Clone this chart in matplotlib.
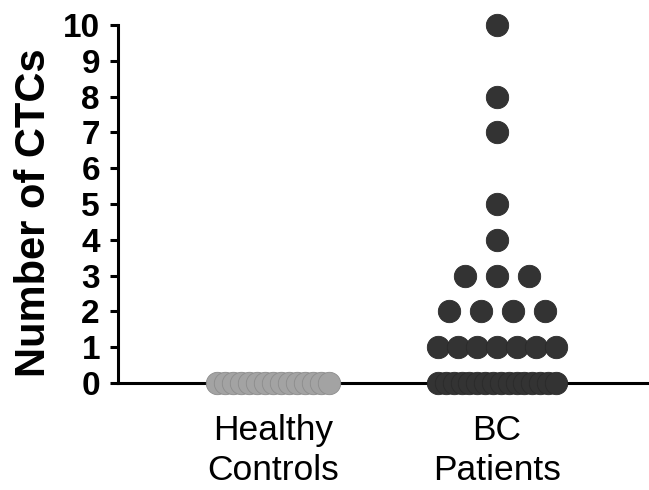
import numpy as np
import matplotlib
matplotlib.use("Agg")
import matplotlib.pyplot as plt

plt.rcParams['font.family'] = ['Liberation Sans', 'DejaVu Sans']

categories = ["Healthy\nControls", "BC\nPatients"]
healthy_values = [0] * 15
bc_values = [10, 8, 7, 5, 4, 3, 3, 3, 2, 2, 2, 2] + [1] * 7 + [0] * 16
colors = ["#A3A3A3", "#333333"]
edge_colors = ["#8C8C8C", "#2A2A2A"]
y_ticks = list(range(0, 11))

fig = plt.figure(figsize=(6.49, 4.90), dpi=100)
ax = fig.add_axes([118 / 649, 107 / 490, 531 / 649, (383 - 25) / 490])

def swarm_offsets(values, max_spacing=0.143, max_width=0.527):
    vals = np.asarray(values)
    offs = np.zeros(len(vals))
    for v in np.unique(vals):
        idx = np.where(vals == v)[0]
        n = len(idx)
        if n == 1:
            continue
        sp = min(max_spacing, max_width / (n - 1))
        offs[idx] = (np.arange(n) - (n - 1) / 2) * sp
    return offs

for i, vals in enumerate([healthy_values, bc_values]):
    x = i + swarm_offsets(vals, max_width=(0.527 if i == 1 else 0.50))
    ax.scatter(x, vals, s=260, color=colors[i], edgecolors=edge_colors[i],
               linewidths=0.6, clip_on=False, zorder=5)

ax.set_xlim(-0.692, 1.679)
ax.set_ylim(0, 10)
ax.set_yticks(y_ticks)
ax.set_yticklabels([str(t) for t in y_ticks], fontsize=24, fontweight='bold')
ax.set_xticks([0, 1])
ax.set_xticklabels(categories, fontsize=25.5, linespacing=1.3)

fig.text(34 / 649, 1 - 213 / 490, "Number of CTCs", fontsize=30, fontweight='bold',
         rotation=90, ha='center', va='center')

for s in ['top', 'right']:
    ax.spines[s].set_visible(False)
for s in ['left', 'bottom']:
    ax.spines[s].set_linewidth(2.2)
ax.tick_params(axis='y', length=6, width=2.2, pad=7)
ax.tick_params(axis='x', length=6, width=2.2, pad=16)

fig.savefig("out.png", dpi=100)
